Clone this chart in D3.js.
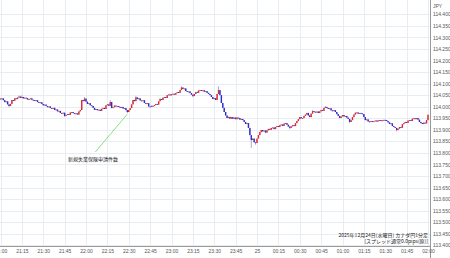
<!DOCTYPE html>
<html>
<head>
<meta charset="utf-8">
<script src="https://cdn.jsdelivr.net/npm/d3@7"></script>
<style>
  html, body { margin: 0; padding: 0; background: #fff; }
  svg { display: block; }
</style>
</head>
<body>
<div id="chart"></div>
<script>
// CAD/JPY 1-minute closes, 21:00 -> 02:00
var startTime = new Date(2025, 11, 24, 21, 0)
var firstOpen = 114.035
var closes = [
  114.033, 114.036, 114.028, 114.020, 114.023, 114.010, 114.003, 114.012, 114.029, 114.026,
  114.036, 114.033, 114.040, 114.044, 114.038, 114.042, 114.036, 114.039, 114.037, 114.031,
  114.033, 114.036, 114.030, 114.029, 114.026, 114.028, 114.020, 114.017, 114.019, 114.012,
  114.006, 114.009, 114.003, 113.998, 114.001, 113.994, 113.992, 113.995, 113.986, 113.988,
  113.980, 113.982, 113.973, 113.970, 113.974, 113.960, 113.964, 113.968, 113.965, 113.975,
  113.977, 113.972, 113.968, 113.971, 113.966, 113.980, 113.986, 114.029, 114.024, 114.035,
  114.022, 114.012, 114.015, 114.006, 114.003, 113.995, 113.986, 113.990, 113.985, 113.987,
  113.982, 113.991, 113.995, 113.990, 114.006, 114.010, 114.004, 114.020, 113.994, 113.998,
  114.005, 114.001, 114.003, 113.999, 113.996, 113.999, 113.992, 113.994, 113.985, 113.977,
  113.986, 113.994, 114.010, 114.029, 114.024, 114.040, 114.033, 114.036, 114.027, 114.025,
  114.028, 114.016, 114.012, 114.015, 114.001, 113.999, 114.004, 114.003, 114.007, 114.012,
  114.009, 114.024, 114.033, 114.029, 114.039, 114.042, 114.038, 114.050, 114.053, 114.049,
  114.054, 114.056, 114.052, 114.059, 114.063, 114.060, 114.072, 114.083, 114.077, 114.079,
  114.068, 114.064, 114.066, 114.059, 114.052, 114.046, 114.055, 114.063, 114.060, 114.070,
  114.072, 114.069, 114.071, 114.065, 114.067, 114.060, 114.055, 114.050, 114.042, 114.033,
  114.037, 114.029, 114.055, 114.072, 114.050, 114.016, 113.995, 113.977, 113.962, 113.951,
  113.956, 113.948, 113.955, 113.948, 113.953, 113.946, 113.953, 113.951, 113.944, 113.947,
  113.942, 113.934, 113.925, 113.929, 113.908, 113.877, 113.856, 113.862, 113.846, 113.843,
  113.862, 113.877, 113.890, 113.899, 113.893, 113.897, 113.888, 113.898, 113.904, 113.900,
  113.908, 113.910, 113.903, 113.912, 113.916, 113.912, 113.920, 113.923, 113.917, 113.926,
  113.929, 113.922, 113.914, 113.908, 113.915, 113.920, 113.916, 113.929, 113.938, 113.946,
  113.955, 113.950, 113.951, 113.960, 113.966, 113.973, 113.962, 113.955, 113.970, 113.981,
  113.978, 113.975, 113.979, 113.973, 113.980, 113.986, 113.982, 113.995, 113.999, 113.994,
  113.990, 113.993, 113.984, 113.981, 113.985, 113.977, 113.968, 113.960, 113.951, 113.958,
  113.964, 113.958, 113.960, 113.953, 113.947, 113.934, 113.942, 113.955, 113.966, 113.973,
  113.975, 113.970, 113.973, 113.971, 113.968, 113.955, 113.942, 113.945, 113.936, 113.934,
  113.938, 113.935, 113.937, 113.940, 113.936, 113.941, 113.942, 113.939, 113.941, 113.943,
  113.942, 113.938, 113.932, 113.925, 113.928, 113.916, 113.912, 113.908, 113.899, 113.905,
  113.912, 113.909, 113.924, 113.929, 113.934, 113.930, 113.940, 113.942, 113.938, 113.948,
  113.950, 113.946, 113.951, 113.944, 113.934, 113.929, 113.925, 113.931, 113.928, 113.942,
  113.964
]

// wick extremes that stick out past the bodies (minute index -> price)
var wickHighs = [[13, 114.048], [15, 114.050], [22, 114.039], [59, 114.042], [77, 114.029], [95, 114.046],
  [112, 114.037], [127, 114.088], [138, 114.066], [153, 114.088], [199, 113.930], [219, 113.985],
  [228, 114.003], [249, 113.977], [300, 113.968]]
var wickLows = [[6, 113.998], [45, 113.956], [89, 113.972], [135, 114.042], [176, 113.822],
  [179, 113.835], [203, 113.903], [245, 113.929], [278, 113.893]]

var priceTicks = d3.range(113.40, 114.4001, 0.05)

var eventLabel = "新規失業保険申請件数"
var eventMinute = 89
var footLines = ["2025年12月24日(水曜日) カナダ円1分足", "[スプレッド通常0.0pips(原)]"]

var width = 450
var height = 258
var plotRight = 430
var axisY = 246

var svg = d3.select("#chart").append("svg")
    .attr("width", width)
    .attr("height", height)
    .attr("font-family", "'Liberation Sans', Arial, sans-serif")

var x = d3.scaleTime()
    .domain([startTime, d3.timeMinute.offset(startTime, 300)])
    .range([0.5, 428])

var y = d3.scaleLinear()
    .domain([113.4, 114.4])
    .range([245.3, 14.3])

var candles = closes.map(function(c, i) {
  var o = i == 0 ? firstOpen : closes[i - 1]
  return { t: d3.timeMinute.offset(startTime, i), o: o, c: c, h: Math.max(o, c), l: Math.min(o, c) }
})
wickHighs.forEach(function(w) { candles[w[0]].h = w[1] })
wickLows.forEach(function(w) { candles[w[0]].l = w[1] })

// grid
var timeTicks = x.ticks(d3.timeMinute.every(15))

svg.append("g")
    .selectAll("line")
    .data(priceTicks)
    .join("line")
    .attr("x1", 0)
    .attr("x2", plotRight)
    .attr("y1", d => Math.round(y(d)) + 0.5)
    .attr("y2", d => Math.round(y(d)) + 0.5)
    .attr("stroke", "#e8ecf3")

svg.append("g")
    .selectAll("line")
    .data(timeTicks)
    .join("line")
    .attr("x1", d => Math.round(x(d)) + 0.5)
    .attr("x2", d => Math.round(x(d)) + 0.5)
    .attr("y1", 0)
    .attr("y2", axisY)
    .attr("stroke", "#e8ecf3")

// candles
var cg = svg.append("g")
var up = "#e4282a", down = "#2b2bd4"

cg.selectAll("line")
    .data(candles)
    .join("line")
    .attr("x1", d => x(d.t))
    .attr("x2", d => x(d.t))
    .attr("y1", d => y(d.h))
    .attr("y2", d => y(d.l))
    .attr("stroke", "#8a8aa8")
    .attr("stroke-width", 0.7)

cg.selectAll("rect")
    .data(candles)
    .join("rect")
    .attr("x", d => x(d.t) - 0.7)
    .attr("width", 1.4)
    .attr("y", d => y(Math.max(d.o, d.c)))
    .attr("height", d => Math.max(0.9, Math.abs(y(d.o) - y(d.c))))
    .attr("fill", d => d.c >= d.o ? up : down)

// event annotation
var ev = candles[eventMinute]
svg.append("line")
    .attr("x1", x(ev.t))
    .attr("y1", y(ev.l) + 1)
    .attr("x2", x(ev.t) - 32)
    .attr("y2", 152)
    .attr("stroke", "#6cd46c")
    .attr("stroke-width", 0.8)

svg.append("text")
    .attr("x", 93)
    .attr("y", 161)
    .attr("text-anchor", "middle")
    .attr("font-family", "'Noto Sans CJK JP', sans-serif")
    .attr("font-size", 5)
    .attr("fill", "#222")
    .text(eventLabel)

// axes
var yAxis = d3.axisRight(y)
    .tickValues(priceTicks)
    .tickSize(0)
    .tickPadding(3)
    .tickFormat(d3.format(".3f"))

svg.append("g")
    .attr("transform", "translate(" + plotRight + ",0)")
    .call(yAxis)
    .call(g => g.select(".domain").remove())
    .call(g => g.selectAll("text").attr("font-size", 5).attr("fill", "#555").attr("font-family", "'Liberation Sans', Arial, sans-serif"))

svg.append("line")
    .attr("x1", plotRight + 0.5)
    .attr("x2", plotRight + 0.5)
    .attr("y1", 0)
    .attr("y2", height)
    .attr("stroke", "#9a9a9a")

svg.append("text")
    .attr("x", 433)
    .attr("y", 8)
    .attr("font-size", 5)
    .attr("fill", "#555")
    .text("JPY")

var xAxis = d3.axisBottom(x)
    .tickValues(timeTicks)
    .tickSize(0)
    .tickPadding(3)
    .tickFormat(d => d.getHours() == 0 && d.getMinutes() == 0 ? "25" : d3.timeFormat("%H:%M")(d))

svg.append("g")
    .attr("transform", "translate(0," + axisY + ")")
    .call(xAxis)
    .call(g => g.select(".domain").remove())
    .call(g => g.selectAll("text").attr("font-size", 5).attr("fill", "#555").attr("font-family", "'Liberation Sans', Arial, sans-serif"))

svg.append("line")
    .attr("x1", 0)
    .attr("x2", plotRight)
    .attr("y1", axisY + 0.5)
    .attr("y2", axisY + 0.5)
    .attr("stroke", "#9a9a9a")

// footnote
svg.append("g")
    .attr("font-family", "'Noto Sans CJK JP', sans-serif")
    .attr("font-size", 5)
    .attr("fill", "#222")
    .attr("text-anchor", "end")
    .selectAll("text")
    .data(footLines)
    .join("text")
    .attr("x", 428)
    .attr("y", (d, i) => 237 + i * 6)
    .text(d => d)
</script>
</body>
</html>
